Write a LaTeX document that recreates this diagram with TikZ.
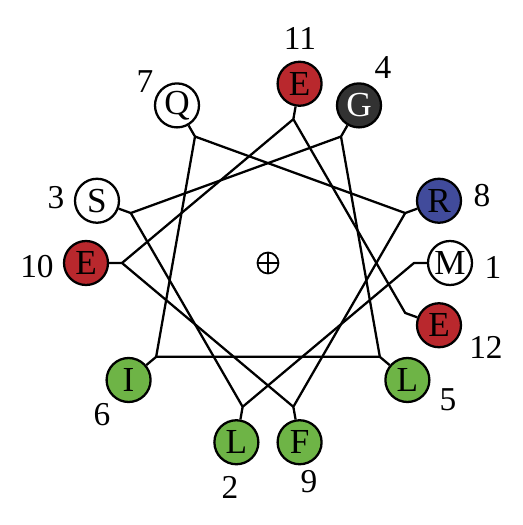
\documentclass[tikz,border=0pt]{standalone}
\usepackage{fontspec}
\setmainfont{Liberation Serif}
\definecolor{acidred}{RGB}{185,40,45}
\definecolor{phobgreen}{RGB}{110,180,70}
\definecolor{basicblue}{RGB}{65,75,155}
\definecolor{glydark}{RGB}{50,50,50}
\tikzset{
  res/.style={circle, draw=black, line width=1.3pt, minimum size=0.88cm, inner sep=0pt, font=\fontsize{20}{20}\selectfont},
  polar/.style={res, fill=white},
  acidic/.style={res, fill=acidred},
  hydro/.style={res, fill=phobgreen},
  basic/.style={res, fill=basicblue},
  gly/.style={res, fill=glydark, text=white},
  num/.style={font=\fontsize{19}{19}\selectfont},
  link/.style={line width=1.3pt, line join=round}
}
\begin{document}
\begin{tikzpicture}
\useasboundingbox (-5.360,-5.240) rectangle (5.080,5.260);
\node[circle, draw, line width=1pt, minimum size=0.42cm, inner sep=0pt] (ctr) at (0.000,0.000) {};
\draw[line width=1pt] (ctr.north) -- (ctr.south) (ctr.west) -- (ctr.east);
\coordinate (a1) at (2.920,0.000);
\coordinate (a2) at (-0.507,-2.876);
\coordinate (a3) at (-2.744,0.999);
\coordinate (a4) at (1.460,2.529);
\coordinate (a5) at (2.237,-1.877);
\coordinate (a6) at (-2.237,-1.877);
\coordinate (a7) at (-1.460,2.529);
\coordinate (a8) at (2.744,0.999);
\coordinate (a9) at (0.507,-2.876);
\coordinate (a10) at (-2.920,0.000);
\coordinate (a11) at (0.507,2.876);
\coordinate (a12) at (2.744,-0.999);
\node[polar] (r1) at (3.640,0.000) {M};
\node[hydro] (r2) at (-0.632,-3.585) {L};
\node[polar] (r3) at (-3.420,1.245) {S};
\node[gly] (r4) at (1.820,3.152) {G};
\node[hydro] (r5) at (2.788,-2.340) {L};
\node[hydro] (r6) at (-2.788,-2.340) {I};
\node[polar] (r7) at (-1.820,3.152) {Q};
\node[basic] (r8) at (3.420,1.245) {R};
\node[hydro] (r9) at (0.632,-3.585) {F};
\node[acidic] (r10) at (-3.640,0.000) {E};
\node[acidic] (r11) at (0.632,3.585) {E};
\node[acidic] (r12) at (3.420,-1.245) {E};
\node[num] (n1) at (4.500,-0.080) {1};
\node[num] (n2) at (-0.760,-4.480) {2};
\node[num] (n3) at (-4.240,1.300) {3};
\node[num] (n4) at (2.300,3.900) {4};
\node[num] (n5) at (3.600,-2.740) {5};
\node[num] (n6) at (-3.320,-3.040) {6};
\node[num] (n7) at (-2.460,3.620) {7};
\node[num] (n8) at (4.280,1.340) {8};
\node[num] (n9) at (0.820,-4.380) {9};
\node[num] (n10) at (-4.620,-0.080) {10};
\node[num] (n11) at (0.640,4.500) {11};
\node[num] (n12) at (4.360,-1.680) {12};
\draw[link] (r1) -- (a1) -- (a2) -- (r2);
\draw[link] (a2) -- (a3) -- (r3);
\draw[link] (a3) -- (a4) -- (r4);
\draw[link] (a4) -- (a5) -- (r5);
\draw[link] (a5) -- (a6) -- (r6);
\draw[link] (a6) -- (a7) -- (r7);
\draw[link] (a7) -- (a8) -- (r8);
\draw[link] (a8) -- (a9) -- (r9);
\draw[link] (a9) -- (a10) -- (r10);
\draw[link] (a10) -- (a11) -- (r11);
\draw[link] (a11) -- (a12) -- (r12);
\end{tikzpicture}
\end{document}
